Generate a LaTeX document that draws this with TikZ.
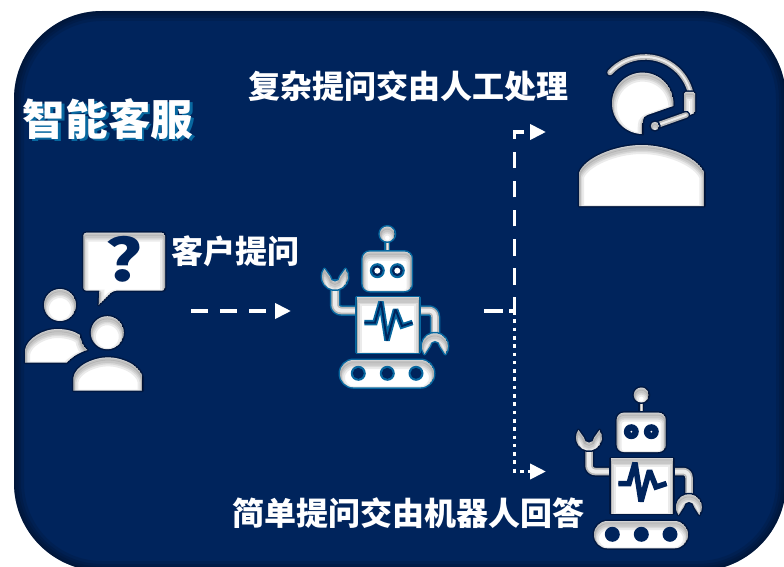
\documentclass[tikz,border=0pt]{standalone}
\usepackage{graphicx}
\usepackage{fontspec}
\newfontfamily\cjk{Noto Sans CJK SC}
\usetikzlibrary{arrows.meta}
\definecolor{navy}{RGB}{0,36,92}
\definecolor{teal1}{RGB}{8,104,160}
\definecolor{shade1}{RGB}{0,24,66}
\definecolor{armgray}{RGB}{185,185,185}
\tikzset{
  label1/.style={font=\cjk\bfseries\fontsize{32}{32}\selectfont,text=white,inner sep=0pt},
  title1/.style={font=\cjk\bfseries\fontsize{42.5}{43}\selectfont,inner sep=0pt,text=white},
  conn/.style={white,line width=3.8pt,-{Triangle[length=16pt,width=15pt]}},
  connplain/.style={white,line width=3.8pt},
  longdash/.style={dash pattern=on 16.5pt off 12.5pt},
  dots/.style={dash pattern=on 3.6pt off 4.7pt},
}
% soft white shape with outer halo and inner shadow, heavier at the top
\newcommand\softshape[2]{%
  \draw[#1,line width=3pt,line join=round] #2;
  \begin{scope}
    \clip #2;
    \fill[white] #2;
    \begin{scope}[shift={(0,4)}]
    \foreach \w in {10,6,3}{\draw[black,opacity=.08,line width=\w pt] #2;}
    \end{scope}
    \begin{scope}[shift={(0,1.5)}]
    \draw[black,opacity=.10,line width=3pt] #2;
    \end{scope}
  \end{scope}}
% thin soft stroke
\newcommand\softline[3]{%
  \draw[#1,line width=#3+3pt,line cap=round,line join=round] #2;
  \draw[armgray,line width=#3,line cap=round,line join=round] #2;
  \draw[white!85!gray,line width=#3-3.5pt,line cap=round,line join=round] #2;}
% robot: #1 shift, #2 halo, #3 feature colour, #4 pupil radius
\newcommand\robot[4]{%
\begin{scope}[shift={(#1)}]
  \softline{#2}{(387.3,238) -- (387.3,254)}{3pt}
  \softshape{#2}{(387.3,234) circle[radius=7.5]}
  \softline{#2}{(335,284) -- (335,302) [rounded corners=6] -- (335,310.5) -- (358,310.5)}{7.5pt}
  \softline{#2}{(418,310.5) [rounded corners=6] -- (435,310.5) -- (435,336)}{7.5pt}
  \softshape{#2}{(345.5,269) arc[start angle=-36,end angle=216,radius=13] -- (329.8,276.5) arc[start angle=180,end angle=0,radius=5.2] -- cycle}
  \softshape{#2}{(424.5,354) arc[start angle=143,end angle=397,radius=13] -- (440.2,346) arc[start angle=0,end angle=-180,radius=5.2] -- cycle}
  \softshape{#2}{[rounded corners=7] (362.7,251.7) rectangle (411.7,291)}
  \softshape{#2}{(356.7,297.3) rectangle (419.3,352.7)}
  \softshape{#2}{[rounded corners=13.5] (340,360) rectangle (434,387.3)}
  \foreach \ex in {377.3,397.3}{
    \fill[#3] (\ex,270.7) circle[radius=7.5];
    \fill[navy] (\ex,270.7) circle[radius=5.5];
    \fill[white] (\ex,270.7) circle[radius=#4];}
  \foreach \hx in {358.3,387.3,416}{
    \fill[#3] (\hx,373.3) circle[radius=7.5];
    \fill[navy] (\hx,373.3) circle[radius=5.5];}
  \draw[#3,line width=5.5pt,miter limit=3] (364.3,322.5) -- (375,322.5) -- (381,301.7) -- (387,340.5) -- (395.5,309.5) -- (402,326) -- (412.5,322.5);
  \draw[navy,line width=2pt,miter limit=3] (364.3,322.5) -- (375,322.5) -- (381,301.7) -- (387,340.5) -- (395.5,309.5) -- (402,326) -- (412.5,322.5);
\end{scope}}
\begin{document}
\begin{tikzpicture}[x=1pt,y=-1pt]
\useasboundingbox (0,0) rectangle (784,567);
\clip (0,0) rectangle (784,567);
\fill[white] (0,0) rectangle (784,567);
% panel
\begin{scope}
  \clip[rounded corners=88] (14,11) rectangle (786,571);
  \fill[navy] (14,11) rectangle (786,571);
  \foreach \w in {20,14,9,4}{\draw[black,opacity=.10,line width=\w pt,rounded corners=88] (14,11) rectangle (786,571);}
\end{scope}
% labels
\node[title1] (title) at (108,120) {\rlap{\raisebox{-2.5pt}{\kern2.5pt\textcolor{teal1}{智能客服}}}智能客服};
\node[label1] (complex) at (408,86) {复杂提问交由人工处理};
\node[label1] (ask) at (235.5,251) {客户提问};
\node[label1] (simple) at (408,513) {简单提问交由机器人回答};
% customers
\softshape{shade1}{[rounded corners=3] (83.3,232.7) -- (165,232.7) -- (165,290.7) -- (113.3,290.7) [sharp corners] -- (98.7,305) -- (99.3,290.7) [rounded corners=3] -- (83.3,290.7) -- cycle}
\node[font=\cjk\bfseries\fontsize{58}{58}\selectfont,text=navy,inner sep=0pt] (qmark) at (123.5,259) {\scalebox{1.25}[1]{?}};
\softshape{shade1}{(60,305) circle[radius=16]}
\softshape{shade1}{(25,362.7) -- (25,350) .. controls (27,338) and (44,329) .. (57,329) .. controls (66,329) and (74,331) .. (80,335) .. controls (81,342) and (84,347) .. (87.3,350) .. controls (78,353) and (72,357) .. (66.7,362.7) -- cycle}
\softshape{shade1}{(107.3,332.7) circle[radius=16.5]}
\softshape{shade1}{(73.3,390.7) -- (73.3,378) .. controls (75,365) and (95,357.3) .. (108,357.3) .. controls (121,357.3) and (141,365) .. (142.7,378) -- (142.7,390.7) -- cycle}
% robots
\robot{0,0}{teal1}{teal1}{3}
\robot{254,161}{shade1}{navy}{1}
% agent
\softshape{shade1}{(642.7,134) arc[start angle=90,end angle=365,radius=30.7] -- (647.3,115) .. controls (643,117) and (642.7,120) .. (642.7,124) -- cycle}
\softline{shade1}{(610,72.5) arc[start angle=222,end angle=352,radius=47] -- (687,112)}{5.5pt}
\softshape{shade1}{[rounded corners=1.5] (684,92) -- (695,92) -- (695,113) -- (684,117) -- cycle}
\softline{shade1}{(686,115) -- (655,126)}{5.5pt}
\softshape{shade1}{(655,126) circle[radius=4.2]}
\softshape{shade1}{(579,206) -- (579,173) .. controls (584,158) and (615,145) .. (641.7,145) .. controls (668,145) and (699,158) .. (704.3,173) -- (704.3,206) -- cycle}
% connectors
\coordinate (ina) at (191,311);
\coordinate (inb) at (291,311);
\coordinate (split0) at (484,311);
\coordinate (split) at (514.5,311);
\coordinate (upc) at (514.5,132);
\coordinate (upe) at (546,132);
\coordinate (downc) at (514.5,471.5);
\coordinate (downe) at (546,471.5);
\draw[conn,longdash] (ina) -- (inb);
\draw[connplain,dash pattern=on 19pt off 6pt] (split0) -- (split);
\draw[conn,dash pattern=on 16.7pt off 12.4pt,dash phase=2.7pt] (split) -- (upc) -- (upe);
\draw[conn,dots] (split) -- (downc) -- (downe);
\end{tikzpicture}
\end{document}
